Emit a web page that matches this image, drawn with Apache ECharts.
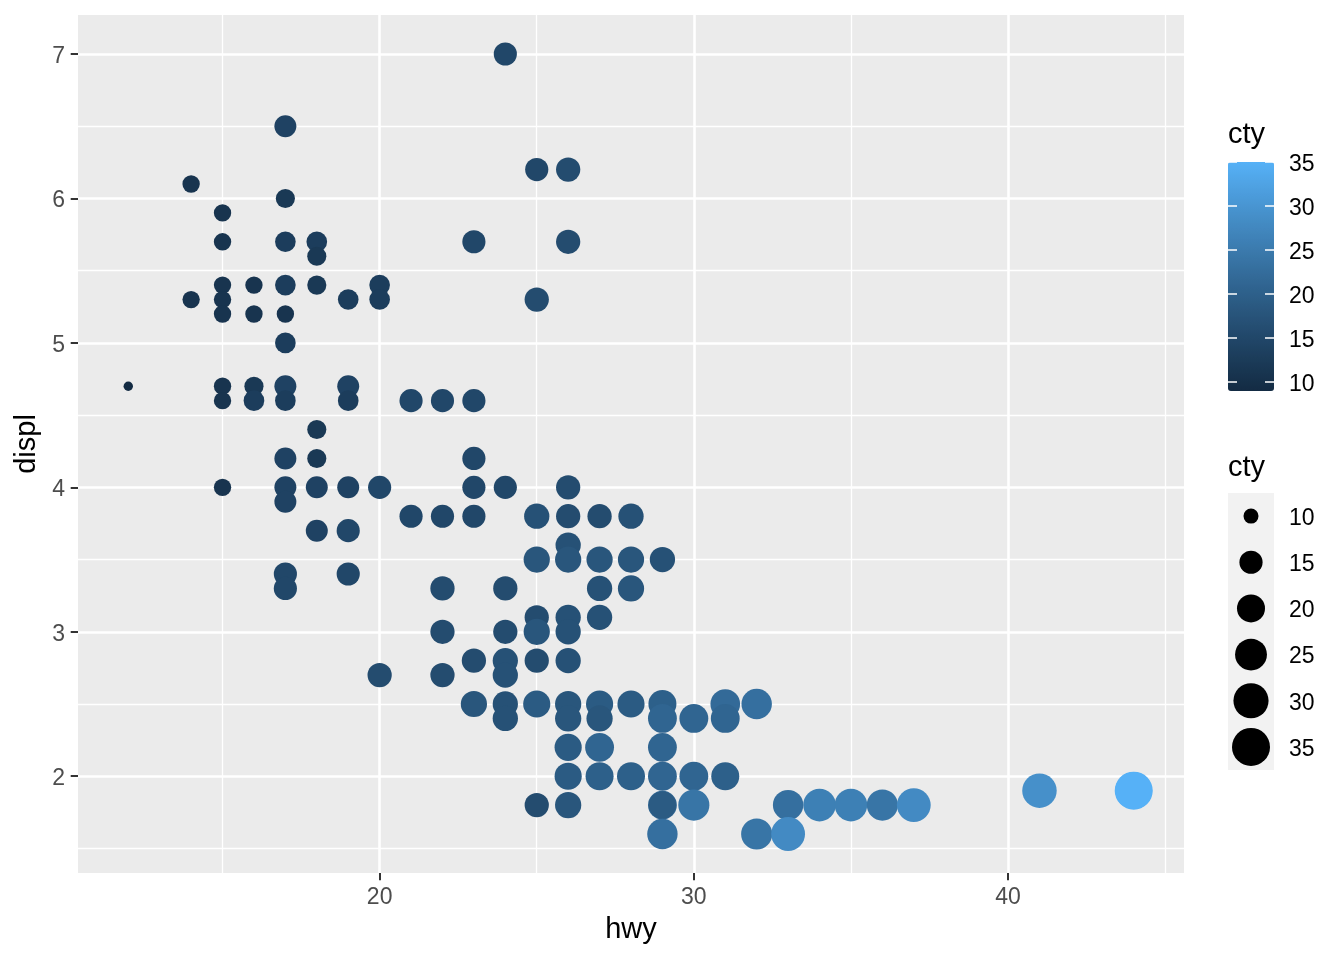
<!DOCTYPE html>
<html>
<head>
<meta charset="utf-8">
<script src="https://cdn.jsdelivr.net/npm/echarts@6/dist/echarts.min.js"></script>
<style>
html,body{margin:0;padding:0;background:#fff;}
#chart{width:1344px;height:960px;}
</style>
</head>
<body>
<div id="chart"></div>
<script>
// ---- data ----
const hwy = [24,17,14,25,26,17,15,15,17,23,26,18,18,14,15,16,17,17,18,20,15,19,20,25,15,16,17,17,
  12,15,16,17,17,19,15,16,17,19,21,22,23,18,17,18,23,15,17,18,19,20,23,24,26,17,
  21,22,23,25,26,27,28,18,19,26,25,26,27,28,29,17,19,17,22,24,27,28,25,26,27,22,24,25,26,
  23,24,25,26,20,22,24,23,24,25,26,27,28,29,31,32,24,26,27,29,30,31,26,27,29,
  26,27,28,29,30,31,25,26,29,29,30,33,34,35,36,37,41,44,44,29,32,33];
const displ = [7.0,6.5,6.1,6.2,6.2,6.0,5.9,5.7,5.7,5.7,5.7,5.7,5.6,5.3,5.4,5.4,5.4,5.4,5.4,5.4,5.3,5.3,5.3,5.3,5.2,5.2,5.2,5.0,
  4.7,4.7,4.7,4.7,4.7,4.7,4.6,4.6,4.6,4.6,4.6,4.6,4.6,4.4,4.2,4.2,4.2,4.0,4.0,4.0,4.0,4.0,4.0,4.0,4.0,3.9,
  3.8,3.8,3.8,3.8,3.8,3.8,3.8,3.7,3.7,3.6,3.5,3.5,3.5,3.5,3.5,3.4,3.4,3.3,3.3,3.3,3.3,3.3,3.1,3.1,3.1,3.0,3.0,3.0,3.0,
  2.8,2.8,2.8,2.8,2.7,2.7,2.7,2.5,2.5,2.5,2.5,2.5,2.5,2.5,2.5,2.5,2.4,2.4,2.4,2.4,2.4,2.4,2.2,2.2,2.2,
  2.0,2.0,2.0,2.0,2.0,2.0,1.8,1.8,1.8,1.8,1.8,1.8,1.8,1.8,1.8,1.8,1.9,1.9,1.9,1.6,1.6,1.6];
const cty = [15,14,11,15,16,12,11,11,13,15,16,13,12,11,11,11,12,13,12,13,11,13,13,16,11,11,11,13,
  9,11,12,13,14,14,11,13,13,13,15,15,15,12,14,12,15,11,14,14,14,15,15,15,16,14,
  15,15,15,17,16,16,17,14,15,17,18,18,18,18,17,15,15,15,16,16,17,18,16,17,17,16,16,18,17,
  16,17,16,17,16,16,17,18,17,19,18,19,19,20,22,23,17,18,18,21,21,21,19,21,21,
  19,20,20,21,21,20,16,18,21,19,24,23,26,26,24,28,29,33,35,23,24,28];

const xTicks = [20, 30, 40];
const xMinor = [15, 25, 35, 45];
const yTicks = [2, 3, 4, 5, 6, 7];
const yMinor = [1.5, 2.5, 3.5, 4.5, 5.5, 6.5];
const ctyBreaks = [10, 15, 20, 25, 30, 35];

// ---- helpers (styles) ----
const FONT = 'Liberation Sans, Arial, Helvetica, sans-serif';
const CTY_MIN = 9, CTY_MAX = 35;
function ptSize(c) { return 3.7 + 5.72 * (1 + 5 * Math.sqrt((c - CTY_MIN) / (CTY_MAX - CTY_MIN))); }

function hexToRgb(h){h=h.replace('#','');return [0,2,4].map(i=>parseInt(h.substr(i,2),16));}
function s2l(c){c/=255;return c<=0.04045?c/12.92:Math.pow((c+0.055)/1.055,2.4);}
function l2s(c){let v=c<=0.0031308?12.92*c:1.055*Math.pow(c,1/2.4)-0.055;return Math.round(Math.max(0,Math.min(1,v))*255);}
const Xn=0.95047,Yn=1,Zn=1.08883;
function fLab(t){return t>0.008856?Math.cbrt(t):7.787*t+16/116;}
function fInv(t){return t>0.206893?t*t*t:(t-16/116)/7.787;}
function toLab(hex){const [r,g,b]=hexToRgb(hex).map(s2l);
  const X=0.4124*r+0.3576*g+0.1805*b,Y=0.2126*r+0.7152*g+0.0722*b,Z=0.0193*r+0.1192*g+0.9505*b;
  const fx=fLab(X/Xn),fy=fLab(Y/Yn),fz=fLab(Z/Zn);return [116*fy-16,500*(fx-fy),200*(fy-fz)];}
function fromLab([L,a,bb]){const fy=(L+16)/116,fx=fy+a/500,fz=fy-bb/200;
  const X=Xn*fInv(fx),Y=Yn*fInv(fy),Z=Zn*fInv(fz);
  const r=3.2406*X-1.5372*Y-0.4986*Z,g=-0.9689*X+1.8758*Y+0.0415*Z,b=0.0557*X-0.2040*Y+1.0570*Z;
  return '#'+[r,g,b].map(l2s).map(v=>v.toString(16).padStart(2,'0')).join('');}
const lowLab = toLab('#132B43'), highLab = toLab('#56B1F7');
const ramp = [];
for (let i = 0; i <= 20; i++) { const t = i/20; ramp.push(fromLab(lowLab.map((v,k)=>v+(highLab[k]-v)*t))); }

const points = hwy.map((h, i) => [h, displ[i], cty[i]]);
const majorLine = {color:'#FFFFFF', width:2.6, type:'solid'};
const minorLine = {color:'#FFFFFF', width:1.3, type:'solid'};
const gridLines = [
  ...xMinor.map(v => ({xAxis: v, lineStyle: minorLine})),
  ...yMinor.map(v => ({yAxis: v, lineStyle: minorLine})),
  ...xTicks.map(v => ({xAxis: v, lineStyle: majorLine})),
  ...yTicks.map(v => ({yAxis: v, lineStyle: majorLine}))
];

const chart = echarts.init(document.getElementById('chart'), null, {renderer: 'canvas'});
const tickStyle = {color:'#333333', width:2};
const tickLabel = {fontSize:23, color:'#4D4D4D', fontFamily:FONT};
// rich-text wrapper that nudges labels down a few pixels (ggplot text centring)
function shifted(color) {
  return {formatter: '{a|{value}}',
    rich: {a: {fontSize:23, color: color, fontFamily: FONT, padding:[5,0,0,0]}}};
}
const binTick = {show:true, inside:true, length:9, customValues:ctyBreaks, lineStyle:{color:'#FFFFFF', width:1.5}};

chart.setOption({
  animation: false,
  backgroundColor: '#FFFFFF',
  textStyle: {fontFamily: FONT},
  grid: [
    {left:78, top:15, width:1106, height:858, show:true, backgroundColor:'#EBEBEB', borderWidth:0},
    {left:1228, top:162, width:46, height:229},
    {left:1228, top:493, width:46, height:277, show:true, backgroundColor:'#F2F2F2', borderWidth:0}
  ],
  xAxis: [
    {gridIndex:0, type:'value', min:10.4, max:45.6,
      axisLine:{show:false}, splitLine:{show:false},
      axisTick:{show:true, customValues:xTicks, length:7.3, lineStyle:tickStyle},
      axisLabel:{customValues:xTicks, margin:13, ...tickLabel},
      name:'hwy', nameLocation:'middle', nameGap:42,
      nameTextStyle:{fontSize:29, color:'#000000', fontFamily:FONT}},
    {gridIndex:1, type:'value', min:0, max:1, show:false},
    {gridIndex:2, type:'category', data:['k'], show:false}
  ],
  yAxis: [
    {gridIndex:0, type:'value', min:1.33, max:7.27,
      axisLine:{show:false}, splitLine:{show:false},
      axisTick:{show:true, customValues:yTicks, length:7.3, lineStyle:tickStyle},
      axisLabel:{customValues:yTicks, margin:13, ...tickLabel, ...shifted('#4D4D4D')},
      name:'displ', nameLocation:'middle', nameGap:34, nameRotate:90,
      nameTextStyle:{fontSize:29, color:'#000000', fontFamily:FONT}},
    {gridIndex:1, type:'value', min:CTY_MIN, max:CTY_MAX, position:'right', z:10,
      axisLine:{show:false}, splitLine:{show:false}, axisTick:{show:false},
      axisLabel:{customValues:ctyBreaks, margin:15, fontSize:23, color:'#000000', fontFamily:FONT, ...shifted('#000000')}},
    {gridIndex:1, type:'value', min:CTY_MIN, max:CTY_MAX, position:'left', z:10,
      axisLine:{show:false}, splitLine:{show:false}, axisTick: binTick, axisLabel:{show:false}},
    {gridIndex:1, type:'value', min:CTY_MIN, max:CTY_MAX, position:'left', offset:-37, z:10,
      axisLine:{show:false}, splitLine:{show:false}, axisTick: binTick, axisLabel:{show:false}},
    {gridIndex:2, type:'category', data:ctyBreaks.map(String), inverse:true, position:'right',
      axisLine:{show:false}, axisTick:{show:false}, splitLine:{show:false},
      axisLabel:{margin:15, fontSize:23, color:'#000000', fontFamily:FONT, ...shifted('#000000')}}
  ],
  visualMap: [{
    type:'continuous', seriesIndex:0, dimension:2, min:CTY_MIN, max:CTY_MAX,
    calculable:false, realtime:false, text:['',''], showLabel:false,
    left:1228, top:162, itemWidth:46, itemHeight:229, padding:0, z:4,
    inRange:{color: ramp}
  }],
  graphic: [
    {type:'text', left:1228, top:120, style:{text:'cty', fontSize:29, fill:'#000000', fontFamily:FONT}},
    {type:'text', left:1228, top:453, style:{text:'cty', fontSize:29, fill:'#000000', fontFamily:FONT}}
  ],
  series: [
    {type:'scatter', xAxisIndex:0, yAxisIndex:0, z:2, data: points,
      symbol:'circle', symbolSize: v => ptSize(v[2]),
      itemStyle:{opacity:1},
      markLine:{silent:true, symbol:['none','none'], z:1, animation:false,
        label:{show:false}, emphasis:{disabled:true}, data: gridLines}},
    {type:'scatter', xAxisIndex:2, yAxisIndex:4, z:2,
      data: ctyBreaks.map((c, i) => [0, i, c]),
      symbol:'circle', symbolSize: v => ptSize(v[2]),
      itemStyle:{color:'#000000', opacity:1}}
  ]
});
</script>
</body>
</html>
